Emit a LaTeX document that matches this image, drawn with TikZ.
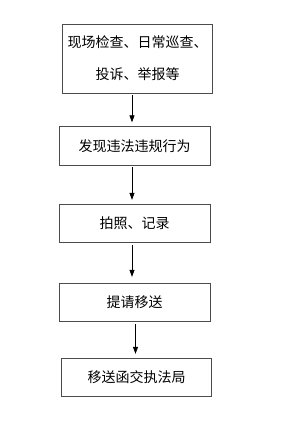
\documentclass[tikz,border=0pt]{standalone}
\usepackage{fontspec}
\setmainfont{Noto Sans CJK SC}
\usetikzlibrary{arrows.meta}
\begin{document}
\begin{tikzpicture}[x=1pt,y=-1pt,
  box/.style={draw=black!70,line width=0.8pt,inner sep=0pt,font=\fontsize{14}{32}\selectfont,align=center},
  arr/.style={line width=0.7pt,-{Triangle[width=5pt,length=7pt]},shorten <=1.5pt,shorten >=4pt}]
\useasboundingbox (0,0) rectangle (288,425);
\node[box,minimum width=150pt,minimum height=69pt] (b1) at (137.5,58.5) {现场检查、日常巡查、\\投诉、举报等};
\node[box,minimum width=151pt,minimum height=38.5pt] (b2) at (134.5,146) {发现违法违规行为};
\node[box,minimum width=151pt,minimum height=38.5pt] (b3) at (134.5,223.5) {拍照、记录};
\node[box,minimum width=151pt,minimum height=38.5pt] (b4) at (134.5,302.5) {提请移送};
\node[box,minimum width=150pt,minimum height=38.5pt] (b5) at (136.5,377.5) {移送函交执法局};
\draw[arr] ([xshift=-5.5pt]b1.south) -- ([xshift=-2.5pt]b2.north);
\draw[arr] ([xshift=-2.5pt]b2.south) -- ([xshift=-2.5pt]b3.north);
\draw[arr,shorten >=6pt] ([xshift=-2.5pt]b3.south) -- ([xshift=-2.5pt]b4.north);
\draw[arr] ([xshift=1pt]b4.south) -- ([xshift=-1pt]b5.north);
\end{tikzpicture}
\end{document}
